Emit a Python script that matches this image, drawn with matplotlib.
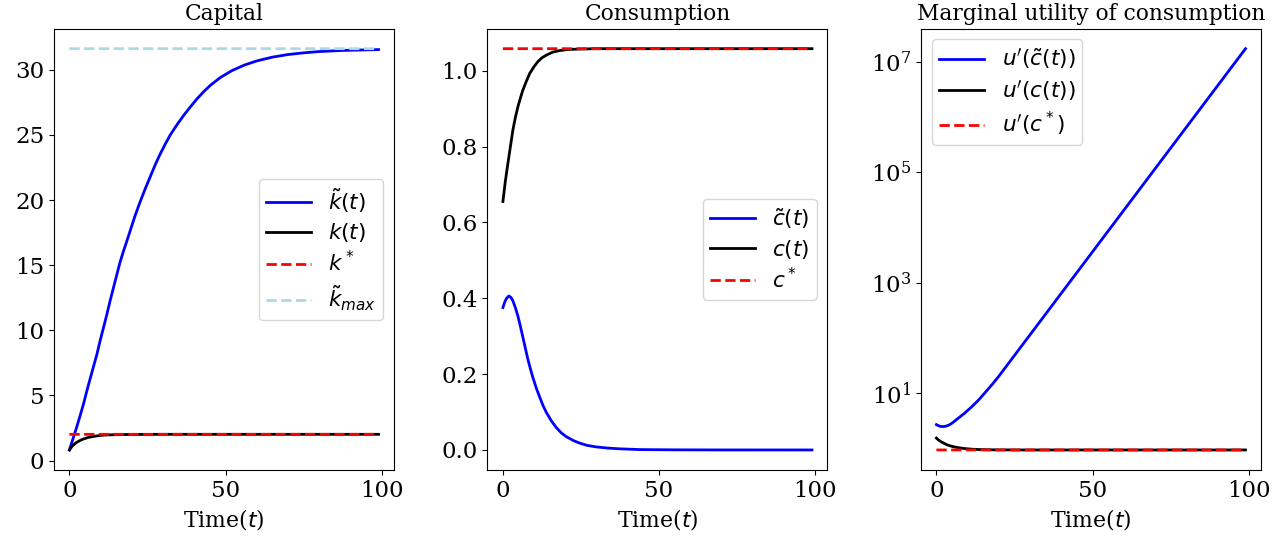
import matplotlib
matplotlib.use("Agg")
import matplotlib.pyplot as plt
from matplotlib.ticker import NullLocator

plt.rcParams['font.family'] = 'serif'
plt.rcParams['font.serif'] = ['DejaVu Serif']

# ---------------- data ----------------
# Capital panel
t_ktilde = [0, 1.1, 2.3, 3.4, 4.5, 5.5, 6.6, 7.7, 8.8, 9.8, 10.9, 12.0, 13.0, 14.1, 15.2,
            16.2, 17.3, 18.4, 19.4, 21.0, 22.7, 24.3, 25.9, 27.5, 29.1, 30.7, 32.3, 34.5,
            36.6, 38.8, 40.9, 43.0, 45.1, 48.3, 52, 56, 60, 65, 70, 75, 80, 88, 99]
k_tilde = [0.82, 1.65, 2.55, 3.43, 4.34, 5.28, 6.25, 7.21, 8.16, 9.17, 10.2, 11.23, 12.24,
           13.27, 14.29, 15.22, 16.07, 16.86, 17.6, 18.78, 19.9, 20.88, 21.8, 22.72, 23.55,
           24.3, 25.0, 25.8, 26.5, 27.17, 27.78, 28.32, 28.8, 29.4, 29.93, 30.36, 30.68,
           30.97, 31.17, 31.30, 31.40, 31.49, 31.55]
t_k = [0, 1, 2.3, 3.5, 4.5, 6, 7.7, 9.5, 11, 13, 16, 20, 30, 99]
k_path = [0.82, 1.15, 1.40, 1.56, 1.66, 1.78, 1.86, 1.92, 1.96, 1.98, 2.0, 2.01, 2.02, 2.02]
k_star = 2.02
k_tilde_max = 31.62
t_span = [0, 99]

# Consumption panel
t_c = [0, 0.8, 1.6, 2.4, 3.2, 4.0, 4.8, 5.6, 6.4, 7.5, 8.6, 10, 11.2, 12.5, 13.9,
       16, 18.2, 21, 24.6, 30, 40, 99]
c_path = [0.655, 0.71, 0.756, 0.80, 0.844, 0.877, 0.905, 0.928, 0.949, 0.972, 0.993, 1.011,
          1.024, 1.034, 1.041, 1.049, 1.053, 1.056, 1.057, 1.058, 1.058, 1.058]
t_ctilde = [0, 0.5, 1.1, 1.9, 2.6, 3.2, 4.0, 4.8, 5.6, 6.4, 7.2, 8.0, 8.8, 9.6, 10.7, 11.8,
            12.8, 13.9, 15.5, 17.1, 18.7, 20.3, 22.5, 24.6, 27, 29.9, 33.5, 37.4, 43.8, 55, 70, 99]
c_tilde = [0.3755, 0.388, 0.399, 0.406, 0.402, 0.393, 0.375, 0.353, 0.326, 0.297, 0.268, 0.239,
           0.214, 0.191, 0.163, 0.139, 0.118, 0.099, 0.077, 0.059, 0.045, 0.035, 0.025, 0.018,
           0.012, 0.008, 0.005, 0.003, 0.001, 0.0003, 0.00003, 0.0000001]
c_star = 1.058

# Marginal utility panel
t_mu_tilde = [0, 1, 2, 3, 4, 5, 6, 7, 8, 9, 10, 11, 12, 13, 14, 15, 16, 17, 18, 19, 20,
              22, 24, 26, 28, 30, 35, 40, 50, 60, 70, 80, 90, 99]
mu_tilde = [2.716, 2.541, 2.500, 2.541, 2.661, 2.884, 3.199, 3.548, 3.936, 4.365, 4.898,
            5.495, 6.237, 7.079, 8.128, 9.441, 10.96, 12.74, 14.79, 17.38, 20.42, 28.84,
            40.74, 57.54, 81.28, 114.8, 272.3, 645.7, 3631, 20417, 114815, 645654,
            3.631e6, 1.718e7]
t_mu = [0, 0.8, 1.6, 2.4, 3.2, 4.0, 4.8, 6.4, 8.6, 11.2, 13.9, 18.2, 24.6, 30, 99]
mu_path = [1.55, 1.41, 1.32, 1.25, 1.185, 1.14, 1.105, 1.054, 1.007, 0.977, 0.961, 0.950,
           0.946, 0.945, 0.945]
mu_star = 0.945

titles = ['Capital', 'Consumption', 'Marginal utility of consumption']
xticks = [0, 50, 100]

# ---------------- plot ----------------
LW = 2.0
TICK_FS = 16.5
LEG_FS = 15.6
TITLE_FS = 15.7
XLAB_FS = 15.8
LEG_KW = dict(fontsize=LEG_FS, labelspacing=0.32, borderpad=0.32, handlelength=2.1)

fig, axes = plt.subplots(1, 3, figsize=(12.88, 5.42), dpi=100)
fig.subplots_adjust(left=0.0419, right=0.979, bottom=0.1328, top=0.9472, wspace=0.275)

ax = axes[0]
ax.plot(t_ktilde, k_tilde, color='b', lw=LW, label=r'$\tilde{k}(t)$')
ax.plot(t_k, k_path, color='k', lw=LW, label=r'$k(t)$')
ax.plot(t_span, [k_star, k_star], 'r--', lw=LW, snap=False, label=r'$k^*$')
ax.plot(t_span, [k_tilde_max, k_tilde_max], '--', color='lightblue', lw=LW, snap=False,
        label=r'$\tilde{k}_{max}$')
ax.set_yticks([0, 5, 10, 15, 20, 25, 30])
ax.legend(loc='center right', **LEG_KW)

ax = axes[1]
ax.plot(t_ctilde, c_tilde, color='b', lw=LW, label=r'$\tilde{c}(t)$')
ax.plot(t_c, c_path, color='k', lw=LW, label=r'$c(t)$')
ax.plot(t_span, [c_star, c_star], 'r--', lw=LW, snap=False, label=r'$c^*$')
ax.set_yticks([0.0, 0.2, 0.4, 0.6, 0.8, 1.0])
ax.set_yticklabels(['0.0', '0.2', '0.4', '0.6', '0.8', '1.0'])
ax.legend(loc='center right', **LEG_KW)

ax = axes[2]
ax.plot(t_mu_tilde, mu_tilde, color='b', lw=LW, label=r"$u'(\tilde{c}(t))$")
ax.plot(t_mu, mu_path, color='k', lw=LW, label=r"$u'(c(t))$")
ax.plot(t_span, [mu_star, mu_star], 'r--', lw=LW, snap=False, label=r"$u'(c^*)$")
ax.set_yscale('log')
ax.set_yticks([1e1, 1e3, 1e5, 1e7])
ax.yaxis.set_minor_locator(NullLocator())
ax.legend(loc='upper left', **LEG_KW)

for ax, title in zip(axes, titles):
    ax.set_title(title, fontsize=TITLE_FS)
    ax.set_xlabel('Time($t$)', fontsize=XLAB_FS)
    ax.set_xticks(xticks)
    ax.tick_params(labelsize=TICK_FS)

fig.savefig('out.png', dpi=100)
